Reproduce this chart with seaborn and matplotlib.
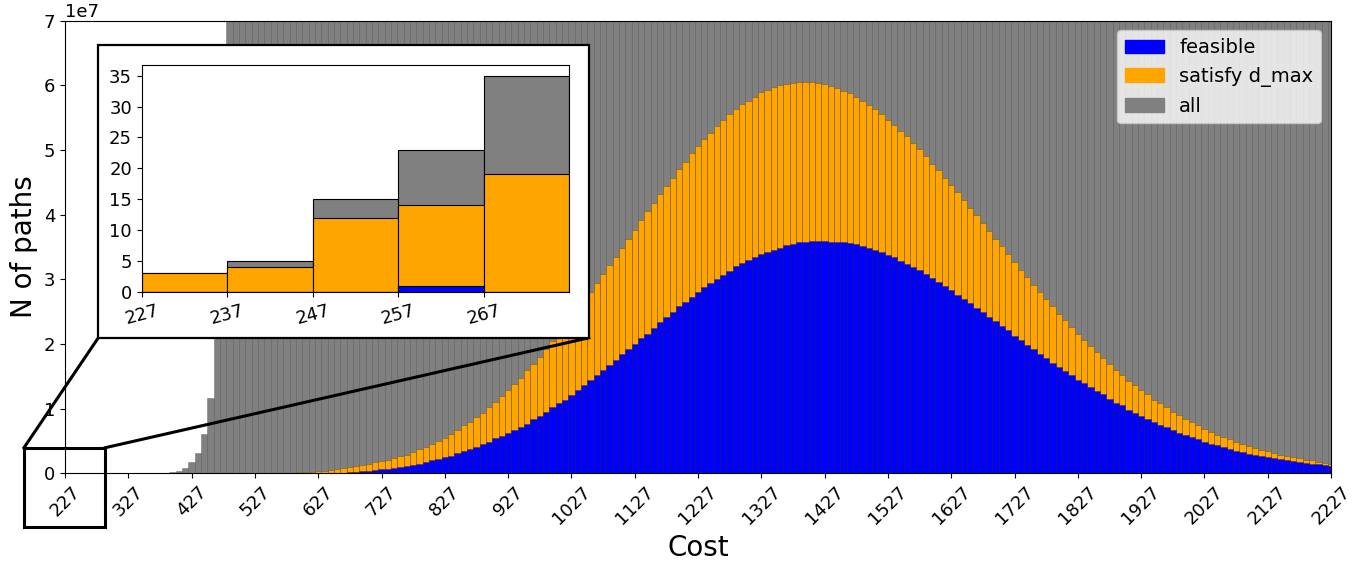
import numpy as np
import matplotlib
matplotlib.use("Agg")
import matplotlib.pyplot as plt
from matplotlib.patches import Rectangle, Patch
from matplotlib.lines import Line2D
import seaborn as sns

# Path cost bins (bin centres, step 10)
cost = np.arange(227, 2228, 10)

# Number of paths per cost bin
feasible = [
    0, 0, 0, 1, 0,
    0, 1, 1, 2, 3, 5, 8, 12, 18, 27,
    40, 60, 90, 130, 190, 280, 400, 580, 820, 1150,
    1600, 2200, 3000, 4000, 5300, 7000, 9000, 11500, 14500, 18000,
    22000, 26500, 31500, 37000, 43000, 5.0e4, 6.0e4, 7.0e4, 8.0e4,
    1.0e5, 1.4e5, 2.0e5, 2.8e5, 3.8e5, 5.0e5, 6.0e5, 7.0e5, 8.5e5, 1.0e6,
    1.15e6, 1.3e6, 1.5e6, 1.75e6, 2.0e6, 2.2e6, 2.5e6, 2.7e6, 3.1e6, 3.4e6,
    3.8e6, 4.1e6, 4.5e6, 4.9e6, 5.4e6, 5.8e6, 6.2e6, 6.7e6, 7.2e6, 7.7e6,
    8.4e6, 8.9e6, 9.5e6, 1.02e7, 1.08e7, 1.14e7, 1.21e7, 1.29e7, 1.36e7, 1.44e7,
    1.52e7, 1.60e7, 1.68e7, 1.75e7, 1.84e7, 1.92e7, 2.00e7, 2.09e7, 2.16e7, 2.25e7,
    2.34e7, 2.42e7, 2.50e7, 2.58e7, 2.65e7, 2.73e7, 2.80e7, 2.88e7, 2.95e7, 3.01e7,
    3.07e7, 3.13e7, 3.20e7, 3.25e7, 3.30e7, 3.35e7, 3.39e7, 3.43e7, 3.46e7, 3.49e7,
    3.53e7, 3.54e7, 3.57e7, 3.58e7, 3.59e7, 3.59e7, 3.59e7, 3.58e7, 3.57e7, 3.57e7,
    3.56e7, 3.54e7, 3.52e7, 3.48e7, 3.45e7, 3.42e7, 3.38e7, 3.34e7, 3.28e7, 3.23e7,
    3.19e7, 3.14e7, 3.08e7, 3.02e7, 2.96e7, 2.90e7, 2.83e7, 2.76e7, 2.70e7, 2.63e7,
    2.56e7, 2.49e7, 2.42e7, 2.35e7, 2.28e7, 2.21e7, 2.13e7, 2.06e7, 1.99e7, 1.92e7,
    1.85e7, 1.78e7, 1.71e7, 1.65e7, 1.58e7, 1.52e7, 1.45e7, 1.39e7, 1.33e7, 1.27e7,
    1.22e7, 1.15e7, 1.09e7, 1.05e7, 9.8e6, 9.3e6, 8.9e6, 8.4e6, 7.9e6, 7.5e6,
    7.1e6, 6.7e6, 6.3e6, 5.9e6, 5.6e6, 5.3e6, 4.8e6, 4.5e6, 4.3e6, 4.0e6,
    3.7e6, 3.5e6, 3.3e6, 3.0e6, 2.8e6, 2.6e6, 2.5e6, 2.3e6, 2.2e6, 2.0e6,
    1.9e6, 1.7e6, 1.6e6, 1.5e6, 1.4e6, 1.3e6, 1.2e6,
]

satisfy_dmax = [
    3, 4, 12, 14, 19,
    26, 38, 55, 80, 115, 165, 235, 330, 460, 640,
    880, 1200, 1650, 2250, 3050, 4100, 5500, 7300, 9600, 12500,
    16000, 19000, 21500, 24000, 28000, 33000, 38000, 44000, 5.0e4, 7.0e4,
    9.0e4, 1.1e5, 1.4e5, 1.8e5, 2.3e5, 3.0e5, 4.0e5, 5.5e5, 7.0e5,
    8.5e5, 1.0e6, 1.15e6, 1.3e6, 1.5e6, 1.7e6, 1.9e6, 2.1e6, 2.3e6, 2.6e6,
    2.9e6, 3.3e6, 3.7e6, 4.1e6, 4.5e6, 5.0e6, 5.5e6, 6.1e6, 6.7e6, 7.4e6,
    8.0e6, 8.7e6, 9.4e6, 1.03e7, 1.10e7, 1.20e7, 1.29e7, 1.38e7, 1.48e7, 1.59e7,
    1.69e7, 1.80e7, 1.92e7, 2.04e7, 2.16e7, 2.29e7, 2.42e7, 2.55e7, 2.68e7, 2.81e7,
    2.94e7, 3.08e7, 3.22e7, 3.35e7, 3.49e7, 3.63e7, 3.77e7, 3.91e7, 4.05e7, 4.18e7,
    4.32e7, 4.45e7, 4.57e7, 4.70e7, 4.82e7, 4.95e7, 5.06e7, 5.17e7, 5.27e7, 5.37e7,
    5.46e7, 5.55e7, 5.63e7, 5.71e7, 5.76e7, 5.82e7, 5.89e7, 5.93e7, 5.97e7, 6.00e7,
    6.02e7, 6.04e7, 6.05e7, 6.05e7, 6.05e7, 6.04e7, 6.02e7, 5.99e7, 5.96e7, 5.92e7,
    5.88e7, 5.82e7, 5.76e7, 5.70e7, 5.63e7, 5.56e7, 5.47e7, 5.39e7, 5.29e7, 5.21e7,
    5.11e7, 5.01e7, 4.91e7, 4.79e7, 4.69e7, 4.57e7, 4.46e7, 4.35e7, 4.23e7, 4.11e7,
    3.99e7, 3.87e7, 3.74e7, 3.63e7, 3.51e7, 3.39e7, 3.27e7, 3.15e7, 3.03e7, 2.92e7,
    2.80e7, 2.69e7, 2.59e7, 2.47e7, 2.37e7, 2.27e7, 2.15e7, 2.06e7, 1.97e7, 1.87e7,
    1.78e7, 1.69e7, 1.60e7, 1.52e7, 1.43e7, 1.36e7, 1.29e7, 1.22e7, 1.14e7, 1.08e7,
    1.02e7, 9.5e6, 9.0e6, 8.4e6, 7.9e6, 7.4e6, 6.9e6, 6.4e6, 6.0e6, 5.6e6,
    5.3e6, 4.9e6, 4.5e6, 4.2e6, 3.9e6, 3.6e6, 3.4e6, 3.1e6, 2.9e6, 2.7e6,
    2.5e6, 2.3e6, 2.1e6, 2.0e6, 1.8e6, 1.6e6, 1.4e6,
]

all_paths = [
    3, 5, 15, 23, 35,
    55, 90, 150, 260, 450, 800, 1400, 2500, 4500, 8500,
    1.6e4, 4.5e4, 1.5e5, 4.0e5, 8.8e5, 1.7e6, 3.2e6, 6.1e6, 1.17e7, 2.2e7,
    4.1e7, 7.6e7, 1.4e8, 2.4e8, 3.9e8, 6.0e8, 8.8e8, 1.2e9, 1.6e9, 2.0e9,
    2.5e9, 3.0e9, 3.5e9, 4.0e9, 4.5e9, 5.0e9, 5.4e9, 5.8e9, 6.2e9, 6.5e9,
    6.8e9, 7.1e9, 7.3e9, 7.5e9, 7.7e9, 7.8e9, 7.9e9, 8.0e9, 8.0e9, 8.0e9,
    7.9e9, 7.8e9, 7.7e9, 7.5e9, 7.3e9, 7.1e9, 6.9e9, 6.7e9, 6.4e9, 6.2e9,
    5.9e9, 5.7e9, 5.4e9, 5.2e9, 4.9e9, 4.7e9, 4.4e9, 4.2e9, 4.0e9, 3.8e9,
    3.6e9, 3.4e9, 3.2e9, 3.0e9, 2.8e9, 2.7e9, 2.5e9, 2.4e9, 2.2e9, 2.1e9,
    2.0e9, 1.9e9, 1.8e9, 1.7e9, 1.6e9, 1.5e9, 1.4e9, 1.35e9, 1.3e9, 1.2e9,
    1.15e9, 1.1e9, 1.05e9, 1.0e9, 9.5e8, 9.0e8, 8.6e8, 8.2e8, 7.8e8, 7.5e8,
    7.2e8, 6.9e8, 6.6e8, 6.3e8, 6.0e8, 5.8e8, 5.5e8, 5.3e8, 5.1e8, 4.9e8,
    4.7e8, 4.5e8, 4.3e8, 4.1e8, 3.9e8, 3.8e8, 3.6e8, 3.5e8, 3.3e8, 3.2e8,
    3.1e8, 3.0e8, 2.9e8, 2.8e8, 2.7e8, 2.6e8, 2.5e8, 2.4e8, 2.3e8, 2.2e8,
    2.2e8, 2.1e8, 2.0e8, 1.95e8, 1.9e8, 1.8e8, 1.75e8, 1.7e8, 1.65e8, 1.6e8,
    1.55e8, 1.5e8, 1.45e8, 1.4e8, 1.36e8, 1.32e8, 1.28e8, 1.24e8, 1.2e8, 1.17e8,
    1.14e8, 1.11e8, 1.08e8, 1.05e8, 1.02e8, 1.0e8, 9.8e7, 9.6e7, 9.4e7, 9.2e7,
    9.0e7, 8.9e7, 8.8e7, 8.7e7, 8.6e7, 8.5e7, 8.4e7, 8.3e7, 8.2e7, 8.1e7,
    8.0e7, 7.95e7, 7.9e7, 7.85e7, 7.8e7, 7.75e7, 7.7e7, 7.65e7, 7.6e7, 7.55e7,
    7.5e7, 7.48e7, 7.46e7, 7.44e7, 7.42e7, 7.4e7, 7.38e7, 7.36e7, 7.34e7, 7.32e7,
    7.3e7, 7.28e7, 7.26e7, 7.24e7, 7.22e7, 7.2e7,
]

main_ticks = np.arange(227, 2228, 100)
n_zoom_bins = 5  # cheapest bins shown enlarged

labels = ["feasible", "satisfy d_max", "all"]
colors = {"feasible": "blue", "satisfy d_max": "orange", "all": "gray"}
values = {"feasible": feasible, "satisfy d_max": satisfy_dmax, "all": all_paths}

W, H = 1369, 565
fig = plt.figure(figsize=(W / 100, H / 100), dpi=100)


def fig_rect(x0, y0, x1, y1):
    """Pixel box (from top-left) -> figure fraction [l, b, w, h]."""
    return [x0 / W, 1 - y1 / H, (x1 - x0) / W, (y1 - y0) / H]


def fx(x):
    return x / W


def fy(y):
    return 1 - y / H


# ---- main histogram -------------------------------------------------------
ax = fig.add_axes(fig_rect(65, 20.7, 1331, 473.3))
edges = list(np.append(cost - 5, cost[-1] + 5))
for lab in ["all", "satisfy d_max", "feasible"]:
    sns.histplot(x=cost, weights=values[lab], bins=edges, color=colors[lab],
                 alpha=1, edgecolor=(0, 0, 0, 0.2), linewidth=0.72, ax=ax)

ax.set_xlim(227, 2227)
ax.set_ylim(0, 7e7)
ax.set_xticks(main_ticks)
ax.set_xticklabels([str(t) for t in main_ticks], rotation=45)
ax.tick_params(labelsize=13)
ax.yaxis.get_offset_text().set_fontsize(13)
ax.set_xlabel("Cost", fontsize=20)
ax.set_ylabel("N of paths", fontsize=20)

handles = [Patch(facecolor=colors[l], edgecolor=colors[l], label=l) for l in labels]
ax.legend(handles=handles, loc="upper right", fontsize=14)

# ---- zoom indicator ---------------------------------------------------------
fig.add_artist(Rectangle((fx(24), fy(527.3)), fx(105.3) - fx(24), fy(447.7) - fy(527.3),
                         transform=fig.transFigure, fill=False, edgecolor="black",
                         linewidth=2.2, zorder=3))
fig.add_artist(Line2D([fx(24), fx(98.3)], [fy(447.7), fy(337.8)],
                      transform=fig.transFigure, color="black", linewidth=2.2, zorder=3))
fig.add_artist(Line2D([fx(105.3), fx(588.8)], [fy(447.7), fy(337.8)],
                      transform=fig.transFigure, color="black", linewidth=2.2, zorder=3))
fig.add_artist(Rectangle((fx(98.3), fy(337.8)), fx(588.8) - fx(98.3), fy(44.7) - fy(337.8),
                         transform=fig.transFigure, facecolor="white", edgecolor="black",
                         linewidth=1.6, zorder=4))

# ---- inset: the cheapest bins -------------------------------------------------
ax_in = fig.add_axes(fig_rect(141.7, 65, 569, 291.7), zorder=5)
zoom_cost = cost[:n_zoom_bins]
zoom_edges = list(np.append(zoom_cost, zoom_cost[-1] + 10))
for lab in ["all", "satisfy d_max", "feasible"]:
    sns.histplot(x=zoom_cost + 5, weights=values[lab][:n_zoom_bins], bins=zoom_edges,
                 color=colors[lab], alpha=1, edgecolor="black", linewidth=0.8, ax=ax_in)
ax_in.set_xlim(zoom_edges[0], zoom_edges[-1])
ax_in.set_ylim(0, 36.75)
ax_in.set_xticks(zoom_cost)
ax_in.set_xticklabels([str(c) for c in zoom_cost], rotation=15)
ax_in.set_yticks(np.arange(0, 36, 5))
ax_in.tick_params(labelsize=13)
ax_in.set_xlabel("")
ax_in.set_ylabel("")

fig.savefig("out.png", dpi=100)
